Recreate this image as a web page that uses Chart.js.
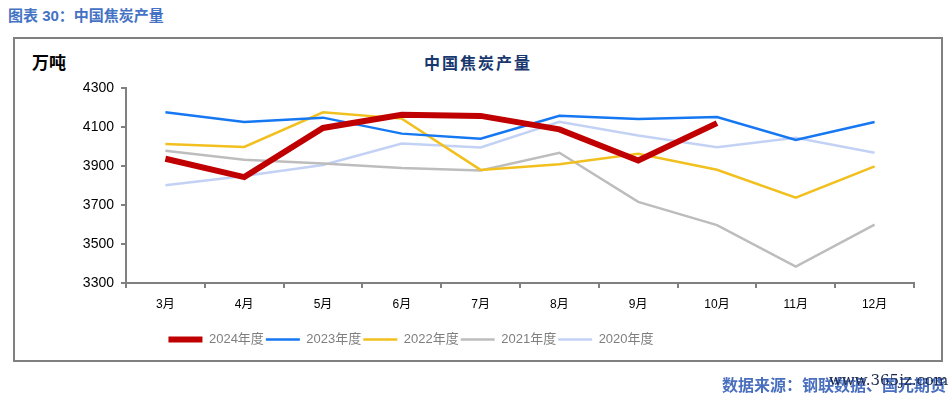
<!DOCTYPE html>
<html>
<head>
<meta charset="utf-8">
<script src="https://cdn.jsdelivr.net/npm/chart.js@4.4.0/dist/chart.umd.min.js"></script>
<style>
  html, body { margin: 0; padding: 0; background: #fff; }
  body { width: 952px; height: 396px; position: relative; overflow: hidden; font-family: "Liberation Sans", "Noto Sans CJK SC", sans-serif; }
  #cap { position: absolute; left: 8px; top: 4px; font: bold 15px "Liberation Sans", "Noto Sans CJK SC"; color: #4472c4; }
  #frame { position: absolute; left: 13px; top: 37px; width: 926px; height: 321px; border: 2px solid #808080; }
  #unit { position: absolute; left: 32px; top: 49px; font: bold 17px "Noto Sans CJK SC"; color: #000; }
  #title { position: absolute; left: 0; width: 956px; top: 50px; text-align: center; font: bold 16px "Noto Sans CJK SC"; letter-spacing: 2px; color: #17376e; }
  #src { position: absolute; right: 6px; top: 372px; font: bold 16px "Noto Sans CJK SC"; color: #4a6fbe; }
  #wm { position: absolute; left: 829px; top: 371px; font: 15px "DejaVu Serif"; color: #1d2a4a; }
  canvas { position: absolute; left: 0; top: 0; }
</style>
</head>
<body>
<div id="cap">图表 30：中国焦炭产量</div>
<div id="frame"></div>
<div id="unit">万吨</div>
<div id="title">中国焦炭产量</div>
<canvas id="c" width="952" height="396"></canvas>
<div id="src">数据来源：钢联数据、国元期货</div>
<div id="wm">www.365jz.com</div>
<script>
  const months = ["3月", "4月", "5月", "6月", "7月", "8月", "9月", "10月", "11月", "12月"];
  const y2024 = [3937, 3843, 4095, 4163, 4157, 4088, 3928, 4120, null, null];
  const y2023 = [4176, 4126, 4148, 4066, 4040, 4158, 4141, 4151, 4034, 4126];
  const y2022 = [4013, 3998, 4175, 4143, 3880, 3909, 3963, 3881, 3737, 3898];
  const y2021 = [3978, 3932, 3913, 3890, 3877, 3968, 3716, 3597, 3384, 3599];
  const y2020 = [3801, 3849, 3905, 4015, 3995, 4127, 4056, 3996, 4045, 3968];
  const yTicks = [3300, 3500, 3700, 3900, 4100, 4300];

  const AXIS = "#808080";

  function line(label, data, color, width) {
    return {
      label, data,
      borderColor: color,
      backgroundColor: color,
      borderWidth: width,
      pointRadius: 0,
      tension: 0,
      fill: false
    };
  }

  // move the legend so it sits left of centre like the original
  const legendShift = {
    id: "legendShift",
    afterLayout(chart) {
      const lg = chart.legend;
      if (!lg) return;
      lg.left = 0;
      lg.right = 822;
    }
  };

  new Chart(document.getElementById("c"), {
    type: "line",
    data: {
      labels: months,
      datasets: [
        line("2024年度", y2024, "#c00000", 6),
        line("2023年度", y2023, "#1677f2", 2.5),
        line("2022年度", y2022, "#f2c01e", 2.5),
        line("2021年度", y2021, "#bdbdbd", 2.5),
        line("2020年度", y2020, "#c3d2f4", 2.5)
      ]
    },
    options: {
      responsive: false,
      animation: false,
      layout: { padding: { left: 0, right: 38, top: 88, bottom: 40 } },
      plugins: {
        tooltip: { enabled: false },
        legend: {
          position: "bottom",
          labels: {
            usePointStyle: true,
            pointStyle: "line",
            pointStyleWidth: 34,
            boxWidth: 34,
            padding: 2,
            color: "#7f7f7f",
            font: { size: 13, family: "Liberation Sans, Noto Sans CJK SC" }
          }
        }
      },
      scales: {
        x: {
          offset: true,
          afterFit(s) { s.height = 48; },
          grid: { offset: true, drawOnChartArea: false, tickLength: 5, color: AXIS, lineWidth: 2 },
          border: { color: AXIS, width: 2 },
          ticks: { color: "#000", padding: 9, font: { size: 12, family: "Liberation Sans, Noto Sans CJK SC" } }
        },
        y: {
          min: 3300,
          max: 4300,
          afterFit(s) { s.width = 126; },
          afterBuildTicks(s) { s.ticks = yTicks.map(v => ({ value: v })); },
          grid: { drawOnChartArea: false, tickLength: 5, color: AXIS, lineWidth: 2 },
          border: { color: AXIS, width: 2 },
          ticks: {
            color: "#000", padding: 7,
            font: { size: 14, family: "Liberation Sans" },
            callback: (v) => String(v)
          }
        }
      }
    },
    plugins: [legendShift]
  });
</script>
</body>
</html>
